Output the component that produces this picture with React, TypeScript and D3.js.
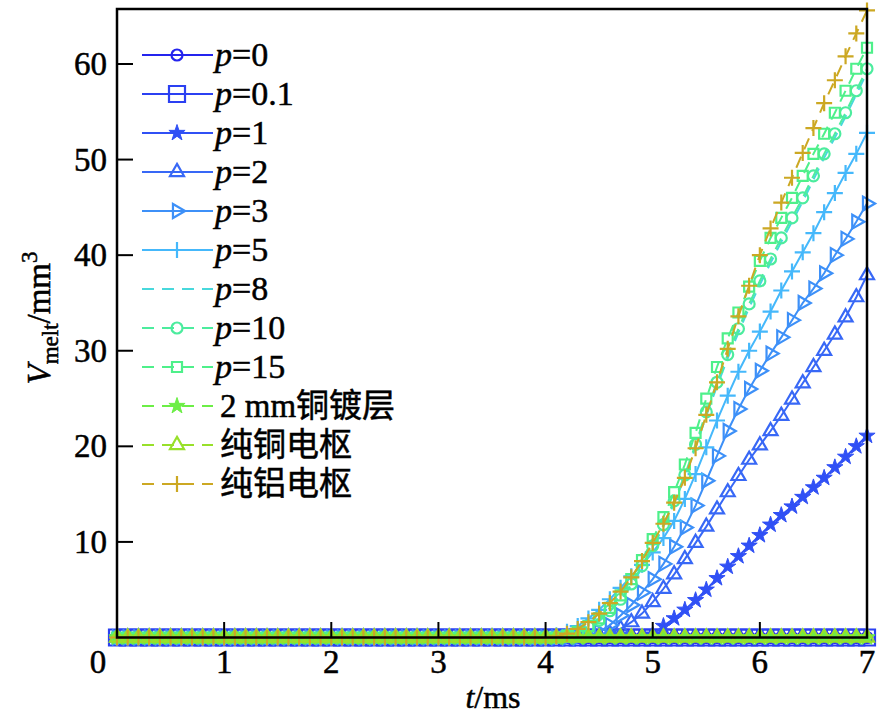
import React from "react";
import * as d3 from "d3";

const TIME = [
  0, 0.1, 0.2, 0.3, 0.4, 0.5, 0.6, 0.7, 0.8, 0.9,
  1, 1.1, 1.2, 1.3, 1.4, 1.5, 1.6, 1.7, 1.8, 1.9,
  2, 2.1, 2.2, 2.3, 2.4, 2.5, 2.6, 2.7, 2.8, 2.9,
  3, 3.1, 3.2, 3.3, 3.4, 3.5, 3.6, 3.7, 3.8, 3.9,
  4, 4.1, 4.2, 4.3, 4.4, 4.5, 4.6, 4.7, 4.8, 4.9,
  5, 5.1, 5.2, 5.3, 5.4, 5.5, 5.6, 5.7, 5.8, 5.9,
  6, 6.1, 6.2, 6.3, 6.4, 6.5, 6.6, 6.7, 6.8, 6.9,
  7,
];

const P0 = [
  0, 0, 0, 0, 0, 0, 0, 0, 0, 0,
  0, 0, 0, 0, 0, 0, 0, 0, 0, 0,
  0, 0, 0, 0, 0, 0, 0, 0, 0, 0,
  0, 0, 0, 0, 0, 0, 0, 0, 0, 0,
  0, 0, 0, 0, 0, 0, 0, 0, 0, 0,
  0, 0, 0, 0, 0, 0, 0, 0, 0, 0,
  0, 0, 0, 0, 0, 0, 0, 0, 0, 0,
  0,
];
const P01 = [
  0, 0, 0, 0, 0, 0, 0, 0, 0, 0,
  0, 0, 0, 0, 0, 0, 0, 0, 0, 0,
  0, 0, 0, 0, 0, 0, 0, 0, 0, 0,
  0, 0, 0, 0, 0, 0, 0, 0, 0, 0,
  0, 0, 0, 0, 0, 0, 0, 0, 0, 0,
  0, 0, 0, 0, 0, 0, 0, 0, 0, 0,
  0, 0, 0, 0, 0, 0, 0, 0, 0, 0,
  0,
];
const P1 = [
  0, 0, 0, 0, 0, 0, 0, 0, 0, 0,
  0, 0, 0, 0, 0, 0, 0, 0, 0, 0,
  0, 0, 0, 0, 0, 0, 0, 0, 0, 0,
  0, 0, 0, 0, 0, 0, 0, 0, 0, 0,
  0, 0, 0, 0, 0, 0, 0, 0, 0, 0,
  0.3, 1.2, 2.0, 2.9, 3.9, 5.0, 6.2, 7.4, 8.5, 9.6,
  10.7, 11.8, 12.8, 13.7, 14.7, 15.7, 16.7, 17.8, 18.9, 20.0,
  21.1,
];
const P2 = [
  0, 0, 0, 0, 0, 0, 0, 0, 0, 0,
  0, 0, 0, 0, 0, 0, 0, 0, 0, 0,
  0, 0, 0, 0, 0, 0, 0, 0, 0, 0,
  0, 0, 0, 0, 0, 0, 0, 0, 0, 0,
  0, 0, 0, 0, 0, 0, 0.4, 0.9, 1.6, 2.5,
  3.7, 5.1, 6.6, 8.2, 9.9, 11.6, 13.4, 15.2, 16.9, 18.6,
  20.1, 21.6, 23.2, 24.9, 26.6, 28.3, 30.0, 31.7, 33.5, 35.6,
  37.9,
];
const P3 = [
  0, 0, 0, 0, 0, 0, 0, 0, 0, 0,
  0, 0, 0, 0, 0, 0, 0, 0, 0, 0,
  0, 0, 0, 0, 0, 0, 0, 0, 0, 0,
  0, 0, 0, 0, 0, 0, 0, 0, 0, 0,
  0, 0, 0, 0, 0.2, 0.6, 1.3, 2.3, 3.4, 4.7,
  6.1, 7.7, 9.5, 11.5, 13.8, 16.4, 19.0, 21.6, 23.9, 26.0,
  27.9, 29.7, 31.4, 33.2, 35.0, 36.5, 38.1, 40.0, 41.7, 43.5,
  45.4,
];
const P5 = [
  0, 0, 0, 0, 0, 0, 0, 0, 0, 0,
  0, 0, 0, 0, 0, 0, 0, 0, 0, 0,
  0, 0, 0, 0, 0, 0, 0, 0, 0, 0,
  0, 0, 0, 0, 0, 0, 0, 0, 0, 0,
  0, 0.2, 0.6, 1.2, 2.0, 2.9, 4.0, 5.2, 6.4, 7.6,
  8.9, 10.4, 12.2, 14.5, 17.1, 19.9, 22.7, 25.3, 27.8, 30.0,
  32.0, 34.1, 36.3, 38.3, 40.3, 42.3, 44.5, 46.5, 48.6, 50.6,
  52.8,
];
const P8 = [
  0, 0, 0, 0, 0, 0, 0, 0, 0, 0,
  0, 0, 0, 0, 0, 0, 0, 0, 0, 0,
  0, 0, 0, 0, 0, 0, 0, 0, 0, 0,
  0, 0, 0, 0, 0, 0, 0, 0, 0, 0,
  0, 0, 0.2, 0.5, 1.0, 1.7, 2.7, 3.9, 5.4, 7.3,
  9.4, 11.6, 14.0, 16.8, 19.9, 23.2, 26.3, 29.2, 31.9, 34.5,
  36.9, 39.2, 41.4, 43.5, 45.6, 47.9, 50.2, 52.3, 54.5, 56.8,
  59.1,
];
const P10 = [
  0, 0, 0, 0, 0, 0, 0, 0, 0, 0,
  0, 0, 0, 0, 0, 0, 0, 0, 0, 0,
  0, 0, 0, 0, 0, 0, 0, 0, 0, 0,
  0, 0, 0, 0, 0, 0, 0, 0, 0, 0,
  0, 0, 0.2, 0.5, 1.1, 1.8, 2.8, 4.0, 5.6, 7.5,
  9.6, 11.8, 14.3, 17.0, 20.2, 23.6, 26.7, 29.6, 32.3, 34.9,
  37.3, 39.6, 41.8, 43.9, 46.0, 48.3, 50.6, 52.7, 54.9, 57.2,
  59.5,
];
const P15 = [
  0, 0, 0, 0, 0, 0, 0, 0, 0, 0,
  0, 0, 0, 0, 0, 0, 0, 0, 0, 0,
  0, 0, 0, 0, 0, 0, 0, 0, 0, 0,
  0, 0, 0, 0, 0, 0, 0, 0, 0, 0,
  0, 0, 0.2, 0.6, 1.2, 2.0, 3.1, 4.4, 6.1, 8.1,
  10.3, 12.6, 15.2, 18.1, 21.4, 25.0, 28.3, 31.3, 34.0, 36.7,
  39.4, 41.8, 43.9, 46.0, 48.3, 50.6, 52.7, 54.9, 57.2, 59.5,
  61.7,
];
const CU_COAT = [
  0, 0, 0, 0, 0, 0, 0, 0, 0, 0,
  0, 0, 0, 0, 0, 0, 0, 0, 0, 0,
  0, 0, 0, 0, 0, 0, 0, 0, 0, 0,
  0, 0, 0, 0, 0, 0, 0, 0, 0, 0,
  0, 0, 0, 0, 0, 0, 0, 0, 0, 0,
  0, 0, 0, 0, 0, 0, 0, 0, 0, 0,
  0, 0, 0, 0, 0, 0, 0, 0, 0, 0,
  0,
];
const CU_PURE = [
  0, 0, 0, 0, 0, 0, 0, 0, 0, 0,
  0, 0, 0, 0, 0, 0, 0, 0, 0, 0,
  0, 0, 0, 0, 0, 0, 0, 0, 0, 0,
  0, 0, 0, 0, 0, 0, 0, 0, 0, 0,
  0, 0, 0, 0, 0, 0, 0, 0, 0, 0,
  0, 0, 0, 0, 0, 0, 0, 0, 0, 0,
  0, 0, 0, 0, 0, 0, 0, 0, 0, 0,
  0,
];
const AL_PURE = [
  0, 0, 0, 0, 0, 0, 0, 0, 0, 0,
  0, 0, 0, 0, 0, 0, 0, 0, 0, 0,
  0, 0, 0, 0, 0, 0, 0, 0, 0, 0,
  0, 0, 0, 0, 0, 0, 0, 0, 0, 0,
  0, 0.1, 0.4, 0.9, 1.6, 2.5, 3.6, 4.8, 6.3, 8.0,
  9.9, 11.9, 14.1, 16.7, 19.8, 23.3, 26.7, 30.2, 33.6, 36.8,
  40.0, 42.8, 45.5, 48.1, 50.7, 53.3, 55.9, 58.3, 60.8, 63.2,
  65.6,
];

const LABELS = ["p=0", "p=0.1", "p=1", "p=2", "p=3", "p=5", "p=8", "p=10", "p=15", "2 mm铜镀层", "纯铜电枢", "纯铝电枢"];
const VALUES = [P0, P01, P1, P2, P3, P5, P8, P10, P15, CU_COAT, CU_PURE, AL_PURE];
const COLORS = ["#2424ee", "#2b40f2", "#3050f5", "#3868f6", "#3d90f8", "#45b8fb", "#48d8dc", "#4cec9e", "#4ef08a", "#6cee46", "#98e02a", "#cca823"];
const SHAPES = ["circle", "square", "star", "tri", "triright", "plus", "none", "circle", "squareSmall", "star", "tri", "plus"];
const DASHED = [false, false, false, false, false, false, true, true, true, true, true, true];
const X_TICKS = [1, 2, 3, 4, 5, 6, 7];
const Y_TICKS = [10, 20, 30, 40, 50, 60];

const W = 879;
const H = 717;
const FONT = "'Liberation Serif', 'Times New Roman', serif";
const CJK = "'Liberation Serif', 'Noto Sans CJK SC', serif";
const TXT_STROKE = { stroke: "#000", strokeWidth: 0.5 };

function markerPath(shape: string): string {
  if (shape === "circle") return d3.symbol(d3.symbolCircle, Math.PI * 5.5 * 5.5)() as string;
  if (shape === "square") return d3.symbol(d3.symbolSquare, 16 * 16)() as string;
  if (shape === "squareSmall") return d3.symbol(d3.symbolSquare, 10 * 10)() as string;
  if (shape === "star") return d3.symbol(d3.symbolStar, (8.5 * 8.5) / 0.8908)() as string;
  if (shape === "tri" || shape === "triright") return d3.symbol(d3.symbolTriangle, 85)() as string;
  if (shape === "plus") return "M-8,0H8M0,-8V8";
  return "";
}

function Marker({ shape, color, x, y }: { shape: string; color: string; x: number; y: number }) {
  if (shape === "none") return null;
  const d = markerPath(shape);
  const rot = shape === "triright" ? " rotate(90)" : "";
  const filled = shape === "star";
  return (
    <path
      d={d}
      transform={`translate(${x},${y})${rot}`}
      fill={filled ? color : "none"}
      stroke={color}
      strokeWidth={filled ? 1 : 2.2}
    />
  );
}

function LegendLabel({ label, x, y }: { label: string; x: number; y: number }) {
  if (label.startsWith("p=")) {
    return (
      <text x={x} y={y} fontFamily={FONT} fontSize={34} fill="#000" {...TXT_STROKE}>
        <tspan fontStyle="italic">p</tspan>
        <tspan>{label.slice(1)}</tspan>
      </text>
    );
  }
  return (
    <text x={x + 5} y={y} fontFamily={CJK} fontSize={33} fill="#000" {...TXT_STROKE}>
      {label}
    </text>
  );
}

export default function App() {
  const x = d3.scaleLinear().domain([0, 7]).range([117, 867]);
  const y = d3.scaleLinear().domain([0, 65.7]).range([637.5, 9.5]);
  const line = d3
    .line<number>()
    .x((_, i) => x(TIME[i]))
    .y((d) => y(d));

  return (
    <svg width={W} height={H} style={{ position: "absolute", left: 0, top: 0, background: "#fff" }}>
      <rect x={0} y={0} width={W} height={H} fill="#fff" />
      {VALUES.map((vals, si) => (
        <g key={si}>
          <path
            d={line(vals) as string}
            fill="none"
            stroke={COLORS[si]}
            strokeWidth={2}
            strokeDasharray={DASHED[si] ? "12,8" : undefined}
          />
          {vals.map((v, i) => (
            <Marker key={i} shape={SHAPES[si]} color={COLORS[si]} x={x(TIME[i])} y={y(v)} />
          ))}
        </g>
      ))}

      {/* frame */}
      <rect x={117} y={9} width={750} height={628.5} fill="none" stroke="#000" strokeWidth={2.5} />
      {X_TICKS.map((t) => (
        <g key={t}>
          <line x1={x(t)} x2={x(t)} y1={637.5} y2={622} stroke="#000" strokeWidth={2} />
          <text x={x(t)} y={673} textAnchor="middle" fontFamily={FONT} fontSize={33} fill="#000" {...TXT_STROKE}>
            {t}
          </text>
        </g>
      ))}
      <text x={98} y={673} textAnchor="middle" fontFamily={FONT} fontSize={33} fill="#000" {...TXT_STROKE}>
        0
      </text>
      {Y_TICKS.map((t) => (
        <g key={t}>
          <line x1={117} x2={133} y1={y(t)} y2={y(t)} stroke="#000" strokeWidth={2} />
          <text x={107} y={y(t) + 11} textAnchor="end" fontFamily={FONT} fontSize={33} fill="#000" {...TXT_STROKE}>
            {t}
          </text>
        </g>
      ))}

      {/* axis titles */}
      <text x={493} y={708} textAnchor="middle" fontFamily={FONT} fontSize={32} fill="#000" {...TXT_STROKE}>
        <tspan fontStyle="italic">t</tspan>
        <tspan>/ms</tspan>
      </text>
      <text transform="translate(50,318) rotate(-90)" textAnchor="middle" fontFamily={FONT} fontSize={33} fill="#000" {...TXT_STROKE}>
        <tspan fontStyle="italic">V</tspan>
        <tspan fontSize={23} dy={8}>melt</tspan>
        <tspan dy={-8}>/mm</tspan>
        <tspan fontSize={23} dy={-13}>3</tspan>
      </text>

      {/* legend */}
      {LABELS.map((lab, i) => {
        const ly = 55 + 39 * i;
        return (
          <g key={lab}>
            <line
              x1={142}
              x2={213}
              y1={ly}
              y2={ly}
              stroke={COLORS[i]}
              strokeWidth={2}
              strokeDasharray={DASHED[i] ? "12,8" : undefined}
            />
            <Marker shape={SHAPES[i]} color={COLORS[i]} x={177} y={ly} />
            <LegendLabel label={lab} x={215} y={ly + 11} />
          </g>
        );
      })}
    </svg>
  );
}
